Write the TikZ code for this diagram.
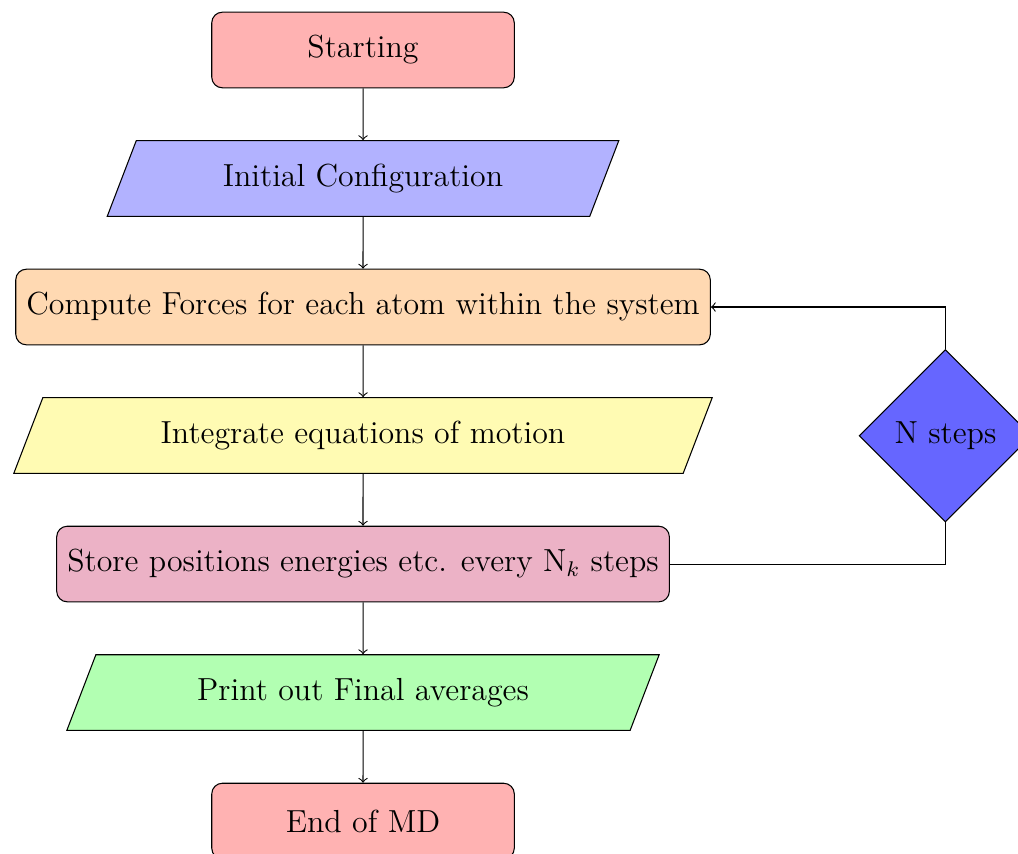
\documentclass[12pt,tikz,border=0pt]{standalone}
\usepackage{amssymb, amsfonts, amsmath}
\usepackage{tikz}
\usetikzlibrary{shapes.geometric}
\usetikzlibrary{positioning}

\begin{document}
\begin{tikzpicture}[node distance=0.685cm,
  startstop/.style={rectangle, rounded corners, minimum width=4cm, minimum height=1cm, text centered, draw=black, fill=red!30},
  io/.style={trapezium, trapezium left angle=69, trapezium right angle=111, minimum width=3cm, minimum height=1cm, text centered, draw=black},
  process/.style={rectangle, rounded corners, minimum width=3cm, minimum height=1cm, text centered, draw=black},
  decision/.style={diamond, text centered, draw=black, fill=blue!60},
  flowline/.style={->}]
\useasboundingbox (-4.80,0.661) rectangle (8.66,-10.63);

\node (start) [startstop] at (0,0) {Starting};
\node (init) [io, fill=blue!30, below=of start] {Initial Configuration};
\node (forces) [process, fill=orange!30, below=of init] {Compute Forces for each atom within the system};
\node (integrate) [io, fill=yellow!30, below=of forces] {Integrate equations of motion};
\node (store) [process, fill=purple!30, below=of integrate] {Store positions energies etc. every N$_k$ steps};
\node (print) [io, fill=green!30, below=of store] {Print out Final averages};
\node (stop) [startstop, below=of print] {End of MD};
\node (nsteps) [decision] at (7.70,-5.10) {N steps};

\draw[flowline] (start) -- (init);
\draw[flowline] (init) -- (forces);
\draw[flowline] (forces) -- (integrate);
\draw[flowline] (integrate) -- (store);
\draw[flowline] (store) -- (print);
\draw[flowline] (print) -- (stop);
\draw (store.east) -| (nsteps.south);
\draw[flowline] (nsteps.north) |- (forces.east);
\end{tikzpicture}
\end{document}
